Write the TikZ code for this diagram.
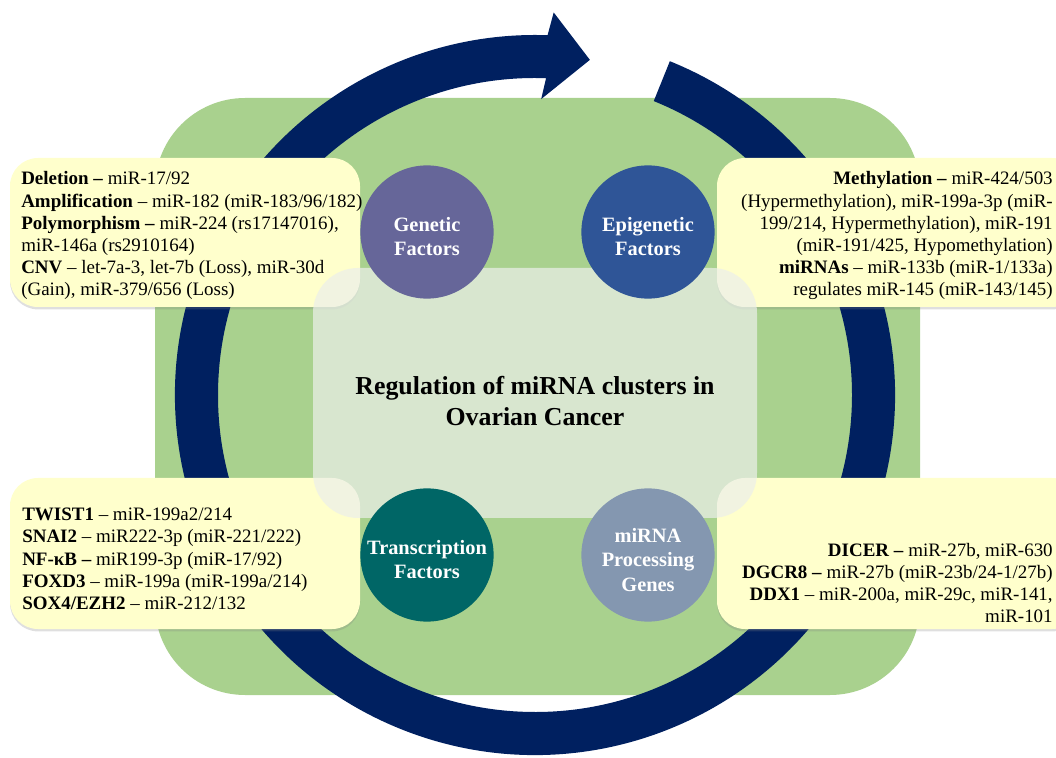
\documentclass[tikz,border=0pt]{standalone}
\usepackage{fontspec}
\setmainfont{Liberation Serif}
\usetikzlibrary{shadows}
\definecolor{ringnavy}{RGB}{0,32,96}
\definecolor{leafgreen}{RGB}{169,209,142}
\definecolor{noteyellow}{RGB}{255,255,204}
\definecolor{hubgrey}{RGB}{236,239,235}
\definecolor{genpurple}{RGB}{102,102,153}
\definecolor{epiblue}{RGB}{47,85,151}
\definecolor{tfteal}{RGB}{0,102,102}
\definecolor{procgrey}{RGB}{132,151,176}

\begin{document}
\begin{tikzpicture}[
  note/.style={fill=noteyellow, rounded corners=0.7cm,
               drop shadow={shadow xshift=0pt, shadow yshift=-0.6mm, opacity=0.25}},
  notetext/.style={inner sep=0pt, font=\fontsize{13.5}{15.8}\selectfont},
  factor/.style={circle, minimum size=3.33cm, inner sep=0pt},
  factortext/.style={text=white, align=center, yshift=-0.12cm,
                     font=\fontsize{14.5}{17.3}\selectfont\bfseries},
  hub/.style={fill=hubgrey, fill opacity=0.7, rounded corners=1.125cm}
]
\useasboundingbox (0,0) rectangle (26.4,18.925);
\fill[leafgreen, rounded corners=2.25cm] (3.875,1.55) rectangle (23.0,16.475);
% the cycle arrow
\begin{scope}[shift={(13.375,9.05)}]
  \fill[ringnavy] (68:9) arc[start angle=68, end angle=-272, radius=9]
    -- (87.2:9.575) -- (80.7:8.49) -- (88.8:7.4) -- (88:7.925)
    arc[start angle=-272, end angle=68, radius=7.925] -- cycle;
\end{scope}
\path[note] (0.25,11.25) rectangle (9.0,14.975);
\path[note] (17.925,11.25) rectangle (27.0,14.975);
\path[note] (0.25,3.2) rectangle (9.0,6.975);
\path[note] (17.925,3.2) rectangle (27.0,6.975);
\node[notetext, anchor=west, align=left] (gentext) at (0.525,13.03)
  {\textbf{Deletion --} miR-17/92\\
   \textbf{Amplification} -- miR-182 (miR-183/96/182)\\
   \textbf{Polymorphism --} miR-224 (rs17147016),\\
   miR-146a (rs2910164)\\
   \textbf{CNV} -- let-7a-3, let-7b (Loss), miR-30d\\
   (Gain), miR-379/656 (Loss)};
\node[notetext, anchor=east, align=right] (epitext) at (26.325,13.03)
  {\textbf{Methylation --} miR-424/503\\
   (Hypermethylation), miR-199a-3p (miR-\\
   199/214, Hypermethylation), miR-191\\
   (miR-191/425, Hypomethylation)\\
   \textbf{miRNAs} -- miR-133b (miR-1/133a)\\
   regulates miR-145 (miR-143/145)};
\node[notetext, anchor=west, align=left] (tftext) at (0.55,4.95)
  {\textbf{TWIST1} -- miR-199a2/214\\
   \textbf{SNAI2} -- miR222-3p (miR-221/222)\\
   \textbf{NF-κB --} miR199-3p (miR-17/92)\\
   \textbf{FOXD3} -- miR-199a (miR-199a/214)\\
   \textbf{SOX4/EZH2} -- miR-212/132};
\node[notetext, anchor=east, align=right] (proctext) at (26.325,4.35)
  {\textbf{DICER --} miR-27b, miR-630\\
   \textbf{DGCR8 --} miR-27b (miR-23b/24-1/27b)\\
   \textbf{DDX1} -- miR-200a, miR-29c, miR-141,\\
   miR-101};
\path[hub] (7.825,5.975) rectangle (18.925,12.225);
\node[font=\fontsize{18.4}{22.5}\selectfont\bfseries, align=center] (title) at (13.375,8.9)
  {Regulation of miRNA clusters in\\ Ovarian Cancer};
\node[factor, fill=genpurple, label={[factortext]center:Genetic\\ Factors}] (gen) at (10.675,13.125) {};
\node[factor, fill=epiblue, label={[factortext]center:Epigenetic\\ Factors}] (epi) at (16.2,13.125) {};
\node[factor, fill=tfteal, label={[factortext]center:Transcription\\ Factors}] (tf) at (10.675,5.05) {};
\node[factor, fill=procgrey, label={[factortext]center:miRNA\\ Processing\\ Genes}] (proc) at (16.2,5.05) {};
\end{tikzpicture}
\end{document}
